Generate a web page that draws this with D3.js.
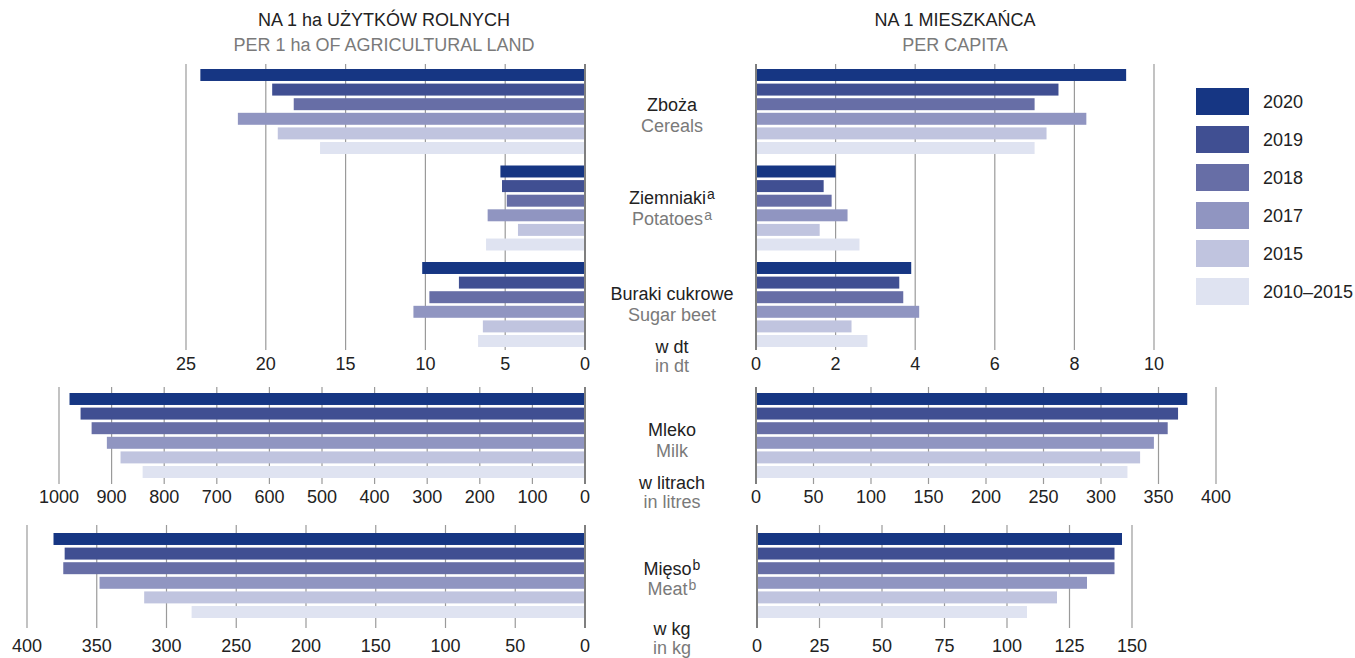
<!DOCTYPE html>
<html lang="pl">
<head>
    <meta charset="UTF-8">
    <title>Plony i produkcja rolna</title>
    <script src="https://d3js.org/d3.v7.min.js"></script>
    <style>
        body {
            margin: 0;
            background: #fff;
        }
        svg {
            display: block;
            font-family: "Liberation Sans", Arial, sans-serif;
        }
        .grid-line {
            stroke: #9a9a9a;
            stroke-width: 1.2;
        }
        .zero-line {
            stroke: #7f7f7f;
            stroke-width: 2;
        }
        .tick-label {
            font-size: 18px;
            fill: #222;
        }
        .pl {
            font-size: 18px;
            fill: #222;
        }
        .en {
            font-size: 18px;
            fill: #7a7a7a;
        }
    </style>
</head>
<body>
    <script>
        // series
        const years = ["2020", "2019", "2018", "2017", "2015", "2010–2015"];
        const colors = ["#163683", "#404f92", "#676ea6", "#9095c1", "#c0c4df", "#dfe3f1"];

        // crops (dt)
        const crops = ["Zboża", "Ziemniaki", "Buraki cukrowe"];
        const cropsEn = ["Cereals", "Potatoes", "Sugar beet"];
        const cropsSup = ["", "a", ""];
        const cropsPerHa = [
            [24.1, 19.6, 18.25, 21.75, 19.25, 16.6],
            [5.3, 5.2, 4.9, 6.1, 4.2, 6.2],
            [10.2, 7.9, 9.75, 10.75, 6.4, 6.7]
        ];
        const cropsPerCapita = [
            [9.3, 7.6, 7.0, 8.3, 7.3, 7.0],
            [2.0, 1.7, 1.9, 2.3, 1.6, 2.6],
            [3.9, 3.6, 3.7, 4.1, 2.4, 2.8]
        ];

        // milk (litres)
        const milkPerHa = [980, 959, 938, 909, 883, 841];
        const milkPerCapita = [375, 367, 358, 346, 334, 323];

        // meat (kg)
        const meatPerHa = [381, 373, 374, 348, 316, 282];
        const meatPerCapita = [146, 143, 143, 132, 120, 108];

        // tick values
        const ticksCropsHa = [0, 5, 10, 15, 20, 25];
        const ticksCropsCap = [0, 2, 4, 6, 8, 10];
        const ticksMilkHa = d3.range(0, 1001, 100);
        const ticksMilkCap = d3.range(0, 401, 50);
        const ticksMeatHa = d3.range(0, 401, 50);
        const ticksMeatCap = d3.range(0, 151, 25);

        const width = 1355;
        const height = 658;
        const midX = 672;

        const svg = d3.select("body").append("svg")
            .attr("width", width)
            .attr("height", height);

        const yearScale = d3.scaleBand()
            .domain(years)
            .range([0, 85])
            .paddingInner(0.18);

        const colorScale = d3.scaleOrdinal(years, colors);

        // draws one panel (one side of one block)
        function drawPanel(cfg) {
            const g = svg.append("g");
            const x = d3.scaleLinear().domain(cfg.domain).range(cfg.range);
            const groupScale = d3.scaleBand()
                .domain(d3.range(cfg.values.length))
                .range([cfg.top, cfg.top + cfg.values.length * 96.5]);

            g.selectAll(".grid-line")
                .data(cfg.ticks.filter(t => t !== 0))
                .enter().append("line")
                .attr("class", "grid-line")
                .attr("x1", d => x(d)).attr("x2", d => x(d))
                .attr("y1", cfg.gridTop).attr("y2", cfg.gridBottom);

            cfg.values.forEach((vals, gi) => {
                g.selectAll(null)
                    .data(vals.map((v, i) => ({ year: years[i], value: v })))
                    .enter().append("rect")
                    .attr("x", d => Math.min(x(0), x(d.value)))
                    .attr("width", d => Math.abs(x(d.value) - x(0)))
                    .attr("y", d => groupScale(gi) + yearScale(d.year))
                    .attr("height", yearScale.bandwidth())
                    .attr("fill", d => colorScale(d.year));
            });

            g.append("line")
                .attr("class", "zero-line")
                .attr("x1", x(0)).attr("x2", x(0))
                .attr("y1", cfg.gridTop).attr("y2", cfg.gridBottom);

            g.selectAll(".tick-label")
                .data(cfg.ticks)
                .enter().append("text")
                .attr("class", "tick-label")
                .attr("x", d => x(d))
                .attr("y", cfg.labelY)
                .attr("dy", "0.35em")
                .attr("text-anchor", "middle")
                .text(d => d);
        }

        // top block: crops
        drawPanel({ values: cropsPerHa, domain: [0, 25], range: [585, 186], ticks: ticksCropsHa,
            top: 69, gridTop: 64, gridBottom: 350, labelY: 364 });
        drawPanel({ values: cropsPerCapita, domain: [0, 10], range: [756, 1154], ticks: ticksCropsCap,
            top: 69, gridTop: 64, gridBottom: 350, labelY: 364 });

        // milk
        drawPanel({ values: [milkPerHa], domain: [0, 1000], range: [585, 59], ticks: ticksMilkHa,
            top: 393, gridTop: 387, gridBottom: 484, labelY: 497 });
        drawPanel({ values: [milkPerCapita], domain: [0, 400], range: [756, 1216], ticks: ticksMilkCap,
            top: 393, gridTop: 387, gridBottom: 484, labelY: 497 });

        // meat
        drawPanel({ values: [meatPerHa], domain: [0, 400], range: [585, 27], ticks: ticksMeatHa,
            top: 533, gridTop: 525, gridBottom: 628, labelY: 646 });
        drawPanel({ values: [meatPerCapita], domain: [0, 150], range: [757, 1132], ticks: ticksMeatCap,
            top: 533, gridTop: 525, gridBottom: 628, labelY: 646 });

        // centre labels
        function label(text, cls, y, sup) {
            const t = svg.append("text")
                .attr("class", cls)
                .attr("x", midX)
                .attr("y", y)
                .attr("dy", "0.35em")
                .attr("text-anchor", "middle");
            t.append("tspan").text(text);
            if (sup) {
                t.append("tspan")
                    .attr("dx", 1)
                    .attr("dy", "-0.4em")
                    .style("font-size", "14px")
                    .text(sup);
            }
        }

        const cropLabelY = [105, 198, 294];
        crops.forEach((c, i) => {
            label(c, "pl", cropLabelY[i], cropsSup[i]);
            label(cropsEn[i], "en", cropLabelY[i] + 21, cropsSup[i]);
        });
        label("w dt", "pl", 347);
        label("in dt", "en", 366);

        label("Mleko", "pl", 430);
        label("Milk", "en", 451);
        label("w litrach", "pl", 483);
        label("in litres", "en", 502);

        label("Mięso", "pl", 569, "b");
        label("Meat", "en", 589, "b");
        label("w kg", "pl", 629);
        label("in kg", "en", 648);

        // titles
        const titles = [
            { x: 384, pl: "NA 1 ha UŻYTKÓW ROLNYCH", en: "PER 1 ha OF AGRICULTURAL LAND" },
            { x: 955, pl: "NA 1 MIESZKAŃCA", en: "PER CAPITA" }
        ];
        titles.forEach(t => {
            svg.append("text").attr("class", "pl")
                .attr("x", t.x).attr("y", 20).attr("dy", "0.35em")
                .attr("text-anchor", "middle").text(t.pl);
            svg.append("text").attr("class", "en")
                .attr("x", t.x).attr("y", 45).attr("dy", "0.35em")
                .attr("text-anchor", "middle").text(t.en);
        });

        // legend
        const legend = svg.append("g").attr("transform", "translate(1196, 88)");
        const legendItem = legend.selectAll("g")
            .data(years)
            .enter().append("g")
            .attr("transform", (d, i) => `translate(0, ${i * 38})`);
        legendItem.append("rect")
            .attr("width", 53)
            .attr("height", 27)
            .attr("fill", d => colorScale(d));
        legendItem.append("text")
            .attr("class", "pl")
            .attr("x", 67)
            .attr("y", 13.5)
            .attr("dy", "0.35em")
            .text(d => d);
    </script>
</body>
</html>
